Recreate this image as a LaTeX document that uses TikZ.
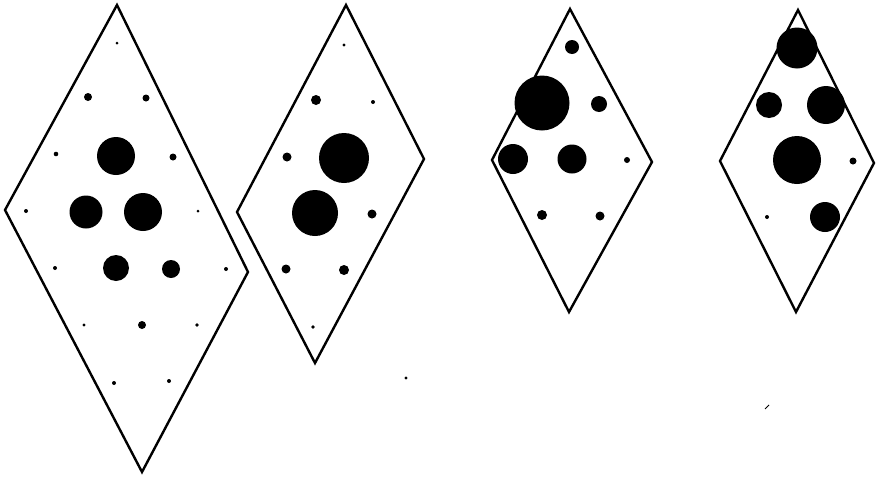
\documentclass[tikz,border=0pt]{standalone}
\begin{document}
\begin{tikzpicture}[x=1pt,y=-1pt,
  outline/.style={draw=black,line width=2.4pt,line join=miter},
  spot/.style={fill=black}]
\fill[white] (0,0) rectangle (876,477);
\useasboundingbox (0,0) rectangle (876,477);
% rhombus 1
\coordinate (a1) at (117,5);
\coordinate (b1) at (248,272);
\coordinate (c1) at (142,472);
\coordinate (d1) at (5,210);
\draw[outline] (a1) -- (b1) -- (c1) -- (d1) -- cycle;
\foreach \x/\y/\r in {117/43/1.5, 88/97/4, 146/98/3.5, 56/154/2.3, 116/156/19, 173/157/3.5,
  26/211/2, 86/212/16.5, 143/212/19, 198/211/1.5, 55/268/2, 116/268/13, 171/269/9,
  226/269/2, 84/325/1.7, 142/325/4, 197/325/1.8, 114/383/2, 169/381/2}
  \fill[spot] (\x,\y) circle[radius=\r pt];
% rhombus 2
\coordinate (a2) at (346,5);
\coordinate (b2) at (424,159);
\coordinate (c2) at (315,363);
\coordinate (d2) at (237,212);
\draw[outline] (a2) -- (b2) -- (c2) -- (d2) -- cycle;
\foreach \x/\y/\r in {344/45/1.7, 316/100/5, 373/102/2, 287/157/4.5, 344/158/25,
  315/213/23, 372/214/4.5, 286/269/4.5, 344/270/5, 313/327/1.8}
  \fill[spot] (\x,\y) circle[radius=\r pt];
% rhombus 3
\coordinate (a3) at (570,9);
\coordinate (b3) at (652,162);
\coordinate (c3) at (569,312);
\coordinate (d3) at (492,160);
\draw[outline] (a3) -- (b3) -- (c3) -- (d3) -- cycle;
\foreach \x/\y/\r in {572/47/7, 542/103/27.5, 599/104/8, 513/159/15, 572/159/14.5,
  627/160/3, 542/215/5, 600/216/4.5}
  \fill[spot] (\x,\y) circle[radius=\r pt];
% rhombus 4
\coordinate (a4) at (798,10);
\coordinate (b4) at (874,163);
\coordinate (c4) at (796,312);
\coordinate (d4) at (720,161);
\draw[outline] (a4) -- (b4) -- (c4) -- (d4) -- cycle;
\foreach \x/\y/\r in {797/48/20.5, 769/105/13, 826/105/19, 797/160/24, 853/161/3.5,
  767/217/2, 825/217/15}
  \fill[spot] (\x,\y) circle[radius=\r pt];
% stray specks
\fill[spot] (406,378) circle[radius=1.6pt];
\draw[black,line width=0.8pt] (765,409) -- (769,405);
\end{tikzpicture}
\end{document}
